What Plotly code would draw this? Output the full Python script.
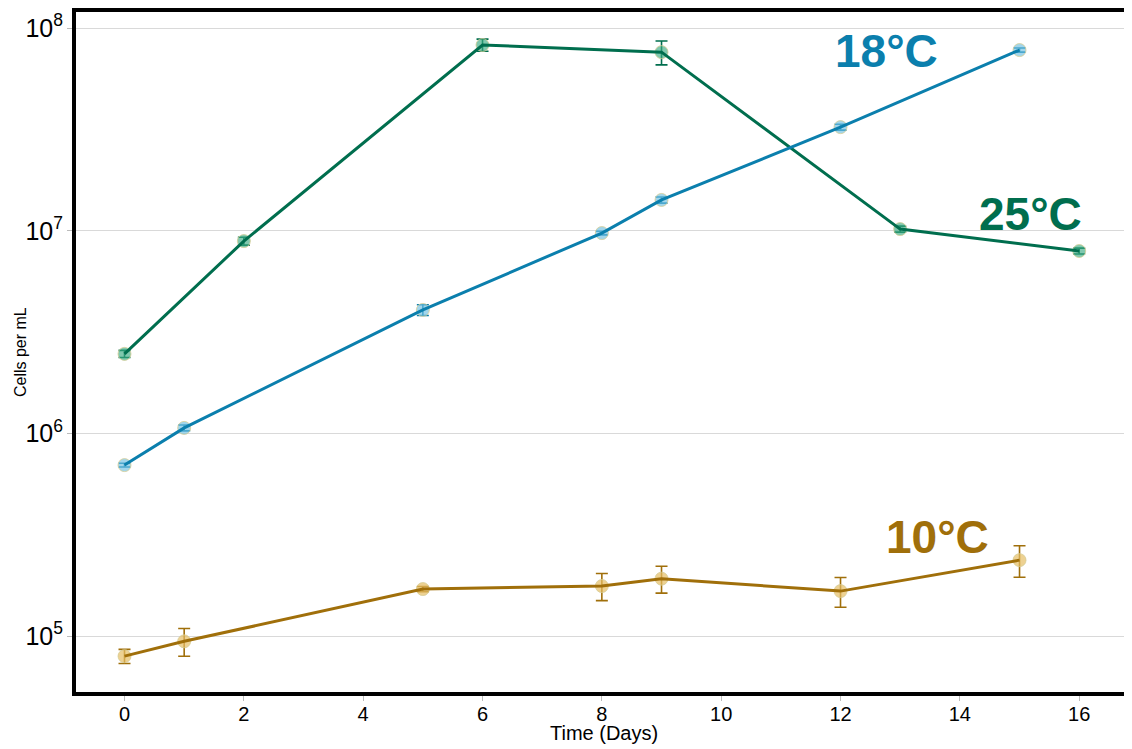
import plotly.graph_objects as go

# Data
days_25 = [0, 2, 6, 9, 13, 16]
cells_25 = [2.47e6, 8.9e6, 8.26e7, 7.62e7, 1.02e7, 7.95e6]
err_25 = [1.0e5, 4.0e5, 5.7e6, 1.03e7, 3.5e5, 2.7e5]

days_18 = [0, 1, 5, 8, 9, 12, 15]
cells_18 = [6.98e5, 1.065e6, 4.07e6, 9.75e6, 1.42e7, 3.25e7, 7.8e7]
err_18 = [1.5e4, 3.5e4, 2.5e5, 2.0e5, 5.0e5, 1.1e6, 1.8e6]

days_10 = [0, 1, 5, 8, 9, 12, 15]
cells_10 = [7.96e4, 9.42e4, 1.706e5, 1.766e5, 1.92e5, 1.667e5, 2.37e5]
err_10 = [6.4e3, 1.47e4, 5.0e3, 2.7e4, 2.9e4, 2.8e4, 4.2e4]

series = [
    ("25°C", days_25, cells_25, err_25, "#006e4e", "rgba(60,170,130,0.65)", 15.19, 7.083),
    ("18°C", days_18, cells_18, err_18, "#0b7fad", "rgba(110,190,225,0.65)", 12.77, 7.888),
    ("10°C", days_10, cells_10, err_10, "#a06f0a", "rgba(230,190,100,0.7)", 13.62, 5.489),
]

x_ticks = [0, 2, 4, 6, 8, 10, 12, 14, 16]

fig = go.Figure()
for name, x, y, e, col, mcol, lx, ly in series:
    fig.add_trace(go.Scatter(
        x=x, y=y, mode="markers",
        marker=dict(size=13, color=mcol, line=dict(color="rgba(215,205,150,0.8)", width=1)),
        error_y=dict(type="data", array=e, visible=True, color=col, thickness=1.6, width=6),
        showlegend=False, hoverinfo="skip",
    ))
    fig.add_trace(go.Scatter(
        x=x, y=y, mode="lines", line=dict(color=col, width=3),
        showlegend=False, name=name,
    ))
    fig.add_annotation(x=lx, y=ly, xref="x", yref="y", text="<b>%s</b>" % name,
                       showarrow=False, font=dict(family="Liberation Sans", size=46, color=col),
                       xanchor="center", yanchor="middle")

# Axis titles
fig.add_annotation(x=0.5, y=-0.0603, xref="paper", yref="paper", text="Time (Days)",
                   showarrow=False, font=dict(family="Liberation Sans", size=20, color="black"),
                   xanchor="center", yanchor="middle")
fig.add_annotation(x=-0.053, y=0.5, xref="paper", yref="paper", text="Cells per mL",
                   textangle=-90, showarrow=False,
                   font=dict(family="Liberation Sans", size=16, color="black"),
                   xanchor="center", yanchor="middle")

fig.update_layout(
    width=1132, height=749,
    margin=dict(l=68, r=8, t=4, b=65),
    plot_bgcolor="white", paper_bgcolor="white",
    font=dict(family="Liberation Sans", color="black"),
)
fig.update_xaxes(
    range=[-0.813, 16.885], tickvals=x_ticks, ticktext=[str(v) for v in x_ticks],
    showgrid=False, zeroline=False, automargin=False,
    showline=True, linecolor="black", linewidth=4, mirror=True,
    ticks="outside", ticklen=5, tickcolor="#bbbbbb", tickwidth=1,
    ticklabelstandoff=-4,
    tickfont=dict(size=20, family="Liberation Sans"),
)
fig.update_yaxes(
    type="log", range=[4.724, 8.080], dtick=1, exponentformat="power",
    showgrid=True, gridcolor="#d9d9d9", gridwidth=1, zeroline=False, automargin=False,
    showline=True, linecolor="black", linewidth=4, mirror=False,
    ticks="outside", ticklen=5, tickcolor="#bbbbbb", tickwidth=1,
    tickfont=dict(size=20, family="Liberation Sans"),
)

fig.write_html("out.html")
